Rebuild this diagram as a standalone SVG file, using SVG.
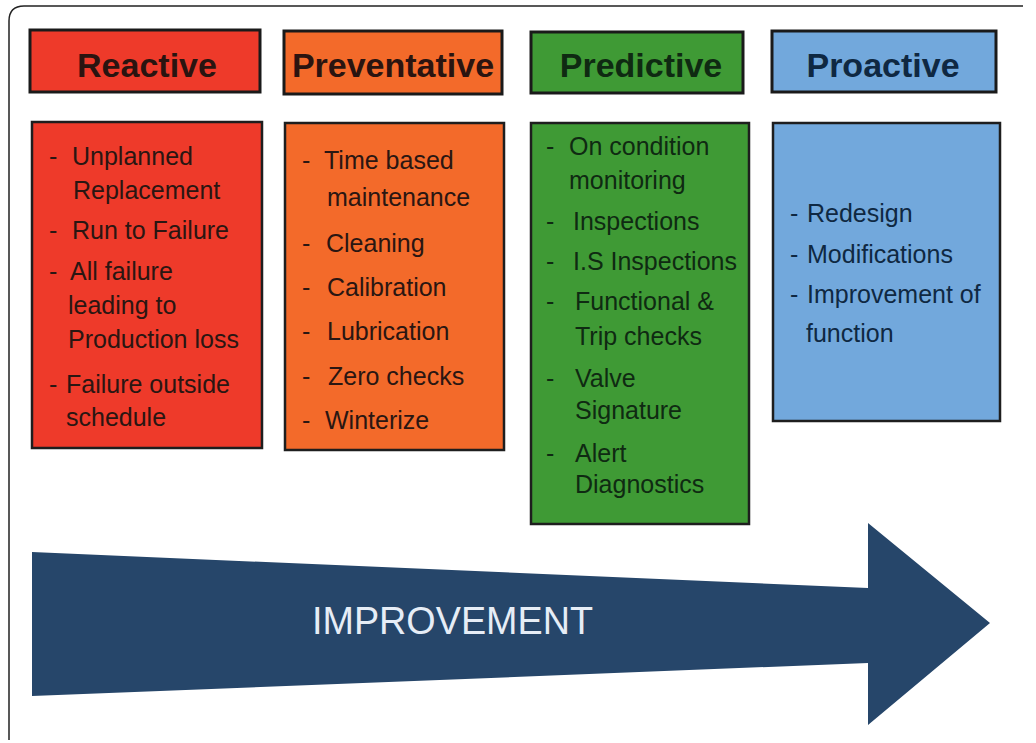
<svg xmlns="http://www.w3.org/2000/svg" width="1036" height="743" viewBox="0 0 1036 743">
<style>
.hdr{stroke:#1a1a1a;stroke-width:3}
.body{stroke:#1e1e1e;stroke-width:2.5}
.ht{font-family:"Liberation Sans",Arial,sans-serif;font-weight:bold;font-size:34px;fill:#2a1410;text-anchor:middle}
.bt{font-family:"Liberation Sans",Arial,sans-serif;font-size:25px;fill:#2a1612}
.gt{fill:#0f2a12}
.pt{fill:#0f2842}
</style>
<rect width="1036" height="743" fill="#ffffff"/>
<path d="M1023,6 H24 Q9,6 9,21 V740" fill="none" stroke="#222" stroke-width="1.5"/>
<g id="reactive-header"><rect class="hdr" x="30" y="30" width="230" height="62" fill="#ee3a2a"/><text class="ht" x="147" y="77">Reactive</text></g>
<g id="preventative-header"><rect class="hdr" x="284" y="31" width="218" height="63" fill="#f36a2a"/><text class="ht" x="393" y="77">Preventative</text></g>
<g id="predictive-header"><rect class="hdr" x="531" y="32" width="212" height="61" fill="#3f9a35"/><text class="ht gt" x="641" y="77">Predictive</text></g>
<g id="proactive-header"><rect class="hdr" x="772" y="31" width="224" height="61" fill="#72a8dc"/><text class="ht pt" x="883" y="77">Proactive</text></g>
<g id="reactive-body"><rect class="body" x="32" y="122" width="230" height="326" fill="#ee3a2a"/>
<text class="bt"><tspan x="49" y="165">-</tspan><tspan x="72" y="165">Unplanned</tspan><tspan x="73" y="199">Replacement</tspan><tspan x="49" y="239">-</tspan><tspan x="72" y="239">Run to Failure</tspan><tspan x="49" y="280">-</tspan><tspan x="70" y="280">All failure</tspan><tspan x="68" y="314">leading to</tspan><tspan x="68" y="348">Production loss</tspan><tspan x="49" y="393">-</tspan><tspan x="66" y="393">Failure outside</tspan><tspan x="66" y="426">schedule</tspan></text></g>
<g id="preventative-body"><rect class="body" x="285" y="123" width="219" height="327" fill="#f36a2a"/>
<text class="bt"><tspan x="302" y="169">-</tspan><tspan x="324" y="169">Time based</tspan><tspan x="327" y="206">maintenance</tspan><tspan x="302" y="252">-</tspan><tspan x="326" y="252">Cleaning</tspan><tspan x="302" y="296">-</tspan><tspan x="327" y="296">Calibration</tspan><tspan x="302" y="340">-</tspan><tspan x="327" y="340">Lubrication</tspan><tspan x="302" y="385">-</tspan><tspan x="328" y="385">Zero checks</tspan><tspan x="302" y="429">-</tspan><tspan x="325" y="429">Winterize</tspan></text></g>
<g id="predictive-body"><rect class="body" x="531" y="123" width="218" height="401" fill="#3f9a35"/>
<text class="bt gt"><tspan x="546" y="155">-</tspan><tspan x="569" y="155">On condition</tspan><tspan x="569" y="189">monitoring</tspan><tspan x="546" y="230">-</tspan><tspan x="573" y="230">Inspections</tspan><tspan x="546" y="270">-</tspan><tspan x="573" y="270">I.S Inspections</tspan><tspan x="546" y="310">-</tspan><tspan x="575" y="310">Functional &amp;</tspan><tspan x="575" y="345">Trip checks</tspan><tspan x="546" y="387">-</tspan><tspan x="575" y="387">Valve</tspan><tspan x="575" y="419">Signature</tspan><tspan x="546" y="462">-</tspan><tspan x="575" y="462">Alert</tspan><tspan x="575" y="493">Diagnostics</tspan></text></g>
<g id="proactive-body"><rect class="body" x="773" y="123" width="227" height="298" fill="#72a8dc"/>
<text class="bt pt"><tspan x="790" y="222">-</tspan><tspan x="807" y="222">Redesign</tspan><tspan x="790" y="263">-</tspan><tspan x="807" y="263">Modifications</tspan><tspan x="790" y="303">-</tspan><tspan x="807" y="303">Improvement of</tspan><tspan x="806" y="342">function</tspan></text></g>
<g id="improvement-arrow">
<polygon points="32,552 868,588 868,523 990,623 868,725 868,663 32,696" fill="#26466a"/>
<text x="312" y="634" font-family="'Liberation Sans',Arial,sans-serif" font-size="38" fill="#e6edf6" textLength="281" lengthAdjust="spacingAndGlyphs">IMPROVEMENT</text>
</g>
</svg>
